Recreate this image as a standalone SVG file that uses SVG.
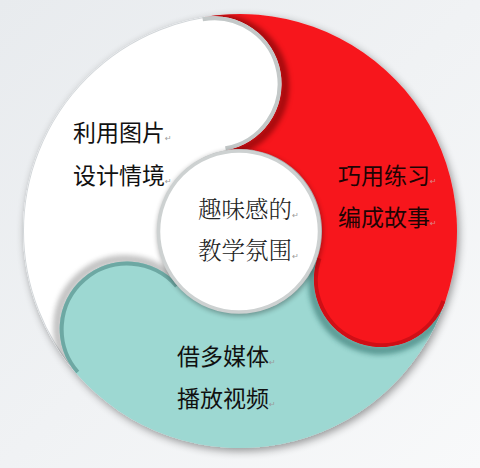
<svg xmlns="http://www.w3.org/2000/svg" width="480" height="468" viewBox="0 0 480 468">
<defs>
<linearGradient id="bg" x1="0" y1="0" x2="1" y2="1">
<stop offset="0" stop-color="#e8ebee"/>
<stop offset="1" stop-color="#f8f9fa"/>
</linearGradient>
<filter id="soft" x="-30%" y="-30%" width="160%" height="160%"><feGaussianBlur stdDeviation="2.5"/></filter>
<filter id="ringShadow" x="-10%" y="-10%" width="120%" height="120%">
<feGaussianBlur in="SourceAlpha" stdDeviation="4"/>
<feOffset dx="2" dy="3"/>
<feComponentTransfer><feFuncA type="linear" slope="0.4"/></feComponentTransfer>
<feMerge><feMergeNode/><feMergeNode in="SourceGraphic"/></feMerge>
</filter>
<path id="pWhite" d="M 76.228 373.365 A 217 217 0 0 1 202.318 17.297 A 67.5 67.5 0 0 1 225.761 150.246 A 82 82 0 0 0 178.114 284.797 A 67.5 67.5 0 0 0 76.228 373.365 Z"/>
<path id="pRed" d="M 202.318 17.297 A 217 217 0 0 1 445.178 301.648 A 67.5 67.5 0 0 1 317.533 257.697 A 82 82 0 0 0 225.761 150.246 A 67.5 67.5 0 0 0 202.318 17.297 Z"/>
<path id="pTeal" d="M 445.178 301.648 A 217 217 0 0 1 76.228 373.365 A 67.5 67.5 0 0 1 178.114 284.797 A 82 82 0 0 0 317.533 257.697 A 67.5 67.5 0 0 0 445.178 301.648 Z"/>
<path id="hW" d="M 202.318 17.297 A 67.5 67.5 0 0 1 225.761 150.246"/>
<path id="hR" d="M 445.178 301.648 A 67.5 67.5 0 0 1 317.533 257.697"/>
<path id="hT" d="M 76.228 373.365 A 67.5 67.5 0 0 1 178.114 284.797"/>
<clipPath id="cWhite"><use href="#pWhite"/></clipPath>
<clipPath id="cRed"><use href="#pRed"/></clipPath>
<clipPath id="cTeal"><use href="#pTeal"/></clipPath>
</defs>
<style>
.lbl{font-family:"Noto Sans CJK SC","Noto Sans CJK TC",sans-serif;font-size:23px;fill:#111}
.ctr{font-family:"Noto Serif CJK SC","Noto Sans CJK SC",serif;font-size:23.5px;fill:#222;font-weight:300}
.ret{font-family:"DejaVu Sans",sans-serif;font-size:8px;fill:#9a9a9a}
.edge{fill:none;stroke-width:8}
.shd{fill:none;stroke-width:9}
</style>
<rect width="480" height="468" fill="url(#bg)"/>

<g id="ring" filter="url(#ringShadow)">
<use id="seg-white" href="#pWhite" fill="#ffffff"/>
<use id="seg-red" href="#pRed" fill="#f7191f"/>
<use id="seg-teal" href="#pTeal" fill="#9dd8d2"/>
</g>
<g clip-path="url(#cWhite)"><circle cx="240" cy="231" r="217" fill="none" stroke="#d3d7da" stroke-width="2"/></g>

<g id="head-shadows">
<g clip-path="url(#cRed)"><use href="#hW" class="shd" stroke="#5a0000" opacity="0.5" transform="translate(3,2)" filter="url(#soft)"/></g>
<g clip-path="url(#cTeal)"><use href="#hR" class="shd" stroke="#1f5f5a" opacity="0.5" transform="translate(-1,3)" filter="url(#soft)"/></g>
<g clip-path="url(#cWhite)"><use href="#hT" class="shd" stroke="#555" opacity="0.35" transform="translate(-2,-2)" filter="url(#soft)"/></g>
</g>

<g id="head-edges">
<g clip-path="url(#cWhite)"><use href="#hW" class="edge" stroke="#c3c8c8"/></g>
<g clip-path="url(#cRed)"><use href="#hR" class="edge" stroke="#cf0f16"/></g>
<g clip-path="url(#cTeal)"><use href="#hT" class="edge" stroke="#6da8a3"/></g>
</g>

<g id="center">
<circle cx="240" cy="233" r="83" fill="#000" opacity="0.3" filter="url(#soft)"/>
<circle cx="239" cy="231.5" r="80.5" fill="#ffffff" stroke="#cdd1d1" stroke-width="3.5"/>
<text class="ctr" x="198" y="218">趣味感的<tspan class="ret">↵</tspan></text>
<text class="ctr" x="198" y="259">教学氛围<tspan class="ret">↵</tspan></text>
</g>

<g id="node-white">
<text class="lbl" x="73" y="141">利用图片<tspan class="ret">↵</tspan></text>
<text class="lbl" x="73" y="184">设计情境<tspan class="ret">↵</tspan></text>
</g>
<g id="node-red">
<text class="lbl" x="338" y="184" style="fill:#1e0404">巧用练习<tspan class="ret" style="fill:#d88">↵</tspan></text>
<text class="lbl" x="338" y="226" style="fill:#1e0404">编成故事<tspan class="ret" style="fill:#d88">↵</tspan></text>
</g>
<g id="node-teal">
<text class="lbl" x="177" y="365">借多媒体<tspan class="ret">↵</tspan></text>
<text class="lbl" x="177" y="407">播放视频<tspan class="ret">↵</tspan></text>
</g>
</svg>
